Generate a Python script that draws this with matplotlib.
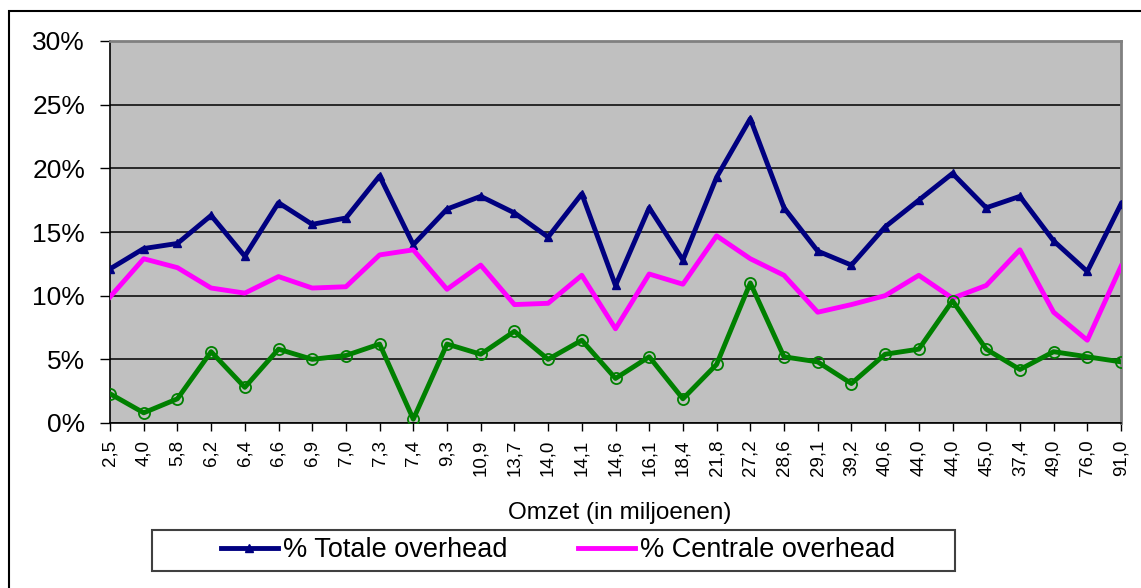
import matplotlib
matplotlib.use("Agg")
import matplotlib.pyplot as plt
from matplotlib.patches import Rectangle
from matplotlib.ticker import PercentFormatter

# omzet categories (in miljoenen)
omzet = ["2,5", "4,0", "5,8", "6,2", "6,4", "6,6", "6,9", "7,0", "7,3", "7,4",
         "9,3", "10,9", "13,7", "14,0", "14,1", "14,6", "16,1", "18,4", "21,8", "27,2",
         "28,6", "29,1", "39,2", "40,6", "44,0", "44,0", "45,0", "37,4", "49,0", "76,0", "91,0"]

# % totale overhead
totale = [12.1, 13.7, 14.1, 16.3, 13.1, 17.3, 15.6, 16.1, 19.4, 14.0,
          16.8, 17.8, 16.5, 14.6, 18.0, 10.8, 16.9, 12.8, 19.3, 23.9,
          16.9, 13.5, 12.4, 15.4, 17.5, 19.6, 16.9, 17.8, 14.3, 11.9, 17.2]

# % centrale overhead
centrale = [9.9, 12.9, 12.2, 10.6, 10.2, 11.5, 10.6, 10.7, 13.2, 13.6,
            10.5, 12.4, 9.3, 9.4, 11.6, 7.4, 11.7, 10.9, 14.7, 12.9,
            11.6, 8.7, 9.3, 10.0, 11.6, 9.8, 10.8, 13.6, 8.7, 6.5, 12.3]

# third series (green, not in legend)
decentraal = [2.3, 0.8, 1.9, 5.6, 2.8, 5.8, 5.0, 5.3, 6.2, 0.3,
              6.2, 5.4, 7.2, 5.0, 6.5, 3.5, 5.2, 1.9, 4.6, 11.0,
              5.2, 4.8, 3.1, 5.4, 5.8, 9.6, 5.8, 4.2, 5.6, 5.2, 4.8]

plt.rcParams['font.family'] = ['Liberation Sans', 'DejaVu Sans']

W, H = 1141, 588
fig = plt.figure(figsize=(W / 100, H / 100), dpi=100)
fig.patch.set_facecolor("white")

# outer chart border
fig.patches.append(Rectangle((9 / W, -0.05), 1.1, (H - 11) / H + 0.05,
                             transform=fig.transFigure, fill=False,
                             edgecolor="black", linewidth=1.5))

ax = fig.add_axes([110 / W, (H - 423) / H, 1011 / W, 382 / H])
ax.set_facecolor("#C0C0C0")

x = list(range(len(omzet)))
ax.plot(x, totale, color="#000080", linewidth=3.5, marker="^", markersize=6,
        label="% Totale overhead", zorder=3)
ax.plot(x, centrale, color="#FF00FF", linewidth=3.5, label="% Centrale overhead", zorder=3)
ax.plot(x, decentraal, color="#008000", linewidth=3.5, marker="o", markersize=8,
        markerfacecolor="none", markeredgewidth=1.3, zorder=3)

ax.set_xlim(0, len(omzet) - 1)
ax.set_ylim(0, 30)
ax.set_yticks(range(0, 31, 5))
ax.yaxis.set_major_formatter(PercentFormatter(decimals=0))
ax.yaxis.grid(True, color="black", linewidth=1.1)
ax.set_axisbelow(True)

ax.set_xticks(x)
ax.set_xticklabels(omzet, rotation=90, fontsize=13.5)
ax.tick_params(axis="x", length=6, width=1, pad=6)
ax.tick_params(axis="y", length=7, width=1, labelsize=19, pad=11)

for s in ["top", "right"]:
    ax.spines[s].set_color("#808080")
    ax.spines[s].set_linewidth(2)
ax.spines["left"].set_color("black")
ax.spines["bottom"].set_color("black")
ax.spines["left"].set_linewidth(1.2)
ax.spines["bottom"].set_linewidth(1.2)

fig.text(620 / W, 1 - 513 / H, "Omzet (in miljoenen)", ha="center", va="center", fontsize=17.5)

# legend box
fig.patches.append(Rectangle((152 / W, (H - 571) / H), 803 / W, 41 / H,
                             transform=fig.transFigure, fill=True, facecolor="white",
                             edgecolor="#404040", linewidth=1.5))
fig.legend(loc="center", bbox_to_anchor=(558 / W, 1 - 550 / H), ncol=2, frameon=False,
           fontsize=19.5, handlelength=2.1, columnspacing=2.6, handletextpad=0.2)

fig.savefig("out.png", dpi=100)
